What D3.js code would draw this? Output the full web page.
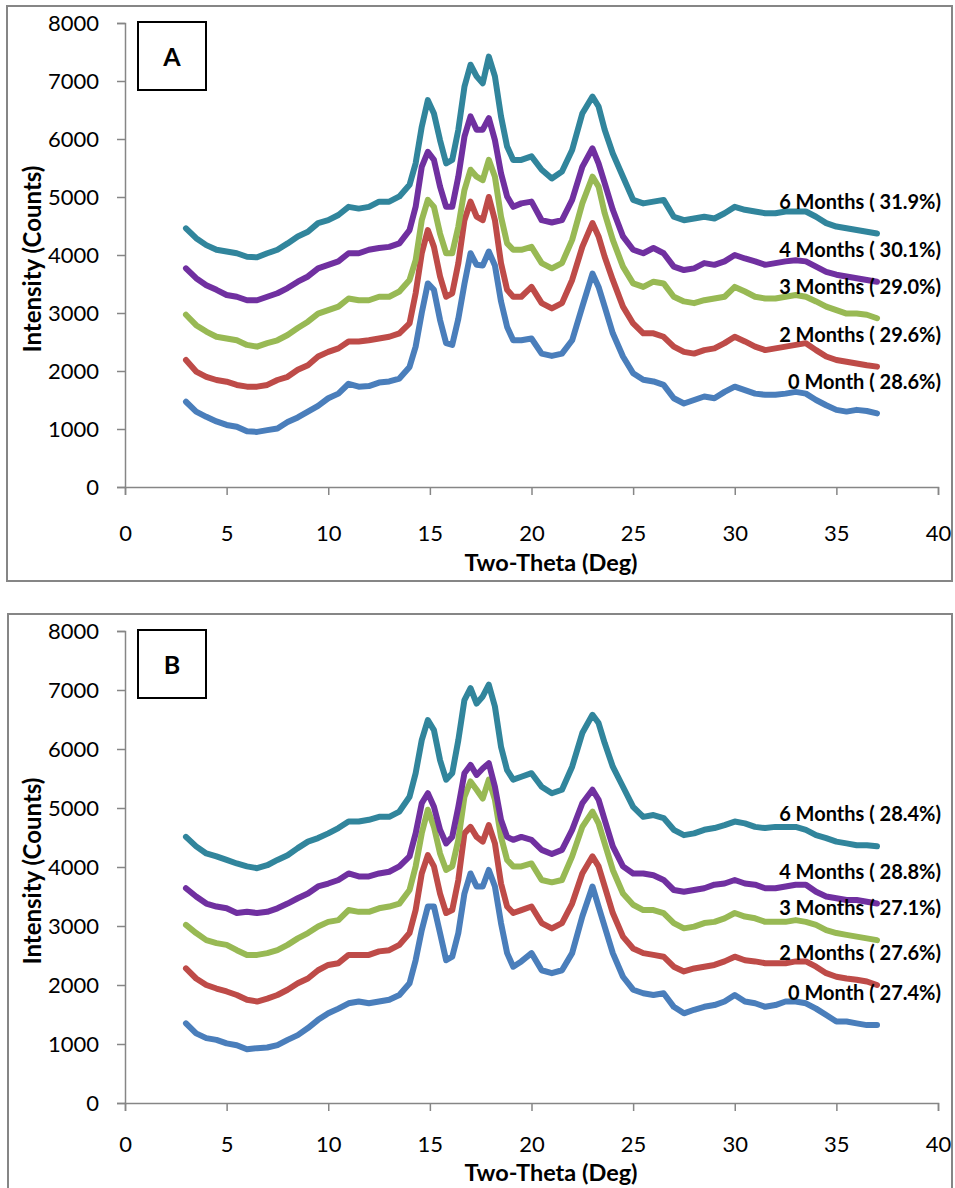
<!DOCTYPE html>
<html>
<head>
<meta charset="utf-8">
<script src="https://cdn.jsdelivr.net/npm/d3@7"></script>
<style>
  body { margin: 0; background: #fff; }
  svg { display: block; }
  text { font-family: Lato, "Open Sans", sans-serif; }
</style>
</head>
<body>
<div class="js-chart"></div>
<script>
// two-theta positions shared by every scan
var twoTheta = [3, 3.5, 4, 4.5, 5, 5.5, 6, 6.5, 7, 7.5, 8, 8.5, 9, 9.5, 10, 10.5, 11, 11.5, 12, 12.5, 13, 13.5, 14,
  14.3, 14.6, 14.9, 15.2, 15.5, 15.8, 16.1, 16.4, 16.7, 17, 17.3, 17.6, 17.9, 18.2, 18.5, 18.8,
  19.1, 19.5, 20, 20.5, 21, 21.5, 22, 22.5, 23, 23.3, 23.6,
  24, 24.5, 25, 25.5, 26, 26.5, 27, 27.5, 28, 28.5, 29, 29.5, 30, 30.5, 31, 31.5, 32, 32.5, 33, 33.5, 34, 34.5, 35, 35.5, 36, 36.5, 37];

var seriesNames = ['0 Month', '2 Months', '3 Months', '4 Months', '6 Months'];
var crystallinityA = ['28.6', '29.6', '29.0', '30.1', '31.9'];
var crystallinityB = ['27.4', '27.6', '27.1', '28.8', '28.4'];

var xTicks = [0, 5, 10, 15, 20, 25, 30, 35, 40];
var yTicks = [0, 1000, 2000, 3000, 4000, 5000, 6000, 7000, 8000];

// panel A intensities (counts)
var a0Month = [1470, 1300, 1210, 1130, 1070, 1040, 960, 950, 980, 1010, 1120, 1200, 1300, 1400, 1530, 1610, 1780, 1730, 1740, 1800, 1820, 1870, 2070,
  2420, 3000, 3510, 3400, 2880, 2480, 2450, 2900, 3500, 4030, 3830, 3820, 4060, 3820, 3200, 2760,
  2530, 2530, 2560, 2300, 2260, 2300, 2530, 3110, 3680, 3450, 3110,
  2650, 2250, 1960, 1850, 1820, 1760, 1530, 1440, 1500, 1560, 1530, 1640, 1730, 1670, 1610, 1590, 1590, 1610, 1640, 1610, 1500, 1410, 1330, 1300, 1330, 1310, 1270];
var a2Months = [2190, 1990, 1900, 1845, 1815, 1760, 1730, 1730, 1760, 1845, 1900, 2020, 2100, 2250, 2330, 2390, 2510, 2510, 2530, 2560, 2590, 2650, 2820,
  3340, 4030, 4430, 4140, 3630, 3280, 3340, 3860, 4600, 4920, 4660, 4600, 5000, 4600, 3860, 3400,
  3280, 3280, 3450, 3170, 3080, 3170, 3570, 4140, 4550, 4320, 3970,
  3570, 3110, 2820, 2650, 2650, 2590, 2420, 2330, 2300, 2360, 2390, 2480, 2590, 2510, 2420, 2360, 2390, 2420, 2450, 2480, 2360, 2250, 2190, 2160, 2130, 2100, 2075];
var a3Months = [2970, 2790, 2680, 2590, 2560, 2530, 2450, 2420, 2480, 2530, 2620, 2740, 2850, 2990, 3050, 3110, 3250, 3220, 3220, 3280, 3280, 3370, 3570,
  3910, 4600, 4950, 4830, 4370, 4030, 4030, 4490, 5120, 5470, 5350, 5290, 5640, 5350, 4660, 4200,
  4090, 4090, 4140, 3860, 3770, 3860, 4260, 4890, 5350, 5180, 4720,
  4260, 3800, 3510, 3450, 3540, 3510, 3280, 3200, 3170, 3220, 3250, 3280, 3450, 3370, 3280, 3250, 3250, 3280, 3310, 3280, 3200, 3110, 3050, 2990, 2990, 2970, 2910];
var a4Months = [3770, 3600, 3480, 3400, 3310, 3280, 3220, 3220, 3280, 3340, 3430, 3540, 3630, 3770, 3830, 3890, 4030, 4030, 4090, 4120, 4140, 4200, 4430,
  4830, 5520, 5780, 5640, 5180, 4830, 4830, 5350, 6040, 6390, 6160, 6160, 6360, 5980, 5410, 5010,
  4830, 4890, 4920, 4600, 4560, 4600, 4950, 5520, 5840, 5580, 5240,
  4780, 4320, 4090, 4030, 4120, 4030, 3800, 3740, 3770, 3860, 3830, 3890, 4000, 3940, 3890, 3830, 3860, 3890, 3910, 3890, 3800, 3710, 3660, 3630, 3600, 3570, 3540];
var a6Months = [4460, 4290, 4170, 4090, 4060, 4030, 3970, 3960, 4030, 4090, 4200, 4320, 4400, 4550, 4600, 4690, 4830, 4800, 4830, 4920, 4920, 5010, 5210,
  5580, 6210, 6670, 6440, 5980, 5580, 5640, 6160, 6900, 7280, 7080, 6960, 7420, 7080, 6390, 5870,
  5640, 5640, 5700, 5470, 5320, 5440, 5810, 6440, 6730, 6560, 6160,
  5750, 5350, 4950, 4890, 4920, 4950, 4660, 4600, 4630, 4660, 4630, 4720, 4830, 4780, 4750, 4720, 4720, 4750, 4750, 4750, 4660, 4550, 4490, 4460, 4430, 4400, 4370];

// panel B intensities (counts)
var b0Month = [1350, 1180, 1100, 1070, 1010, 980, 910, 930, 940, 980, 1070, 1150, 1270, 1410, 1520, 1600, 1690, 1720, 1690, 1720, 1750, 1830, 2030,
  2420, 2930, 3330, 3330, 2880, 2420, 2480, 2880, 3550, 3890, 3670, 3670, 3950, 3670, 3050, 2540,
  2310, 2400, 2540, 2250, 2200, 2250, 2540, 3160, 3670, 3330, 2990,
  2540, 2140, 1920, 1860, 1830, 1860, 1630, 1520, 1580, 1630, 1660, 1720, 1830, 1720, 1690, 1630, 1660, 1720, 1720, 1690, 1600, 1490, 1380, 1380, 1350, 1320, 1320];
var b2Months = [2280, 2110, 2000, 1940, 1890, 1830, 1750, 1720, 1770, 1830, 1920, 2030, 2110, 2250, 2340, 2370, 2510, 2510, 2510, 2570, 2590, 2680, 2880,
  3270, 3890, 4200, 4010, 3550, 3220, 3270, 3780, 4570, 4680, 4510, 4430, 4710, 4400, 3720, 3330,
  3220, 3270, 3330, 3050, 2960, 3050, 3380, 3890, 4180, 4010, 3670,
  3220, 2820, 2620, 2540, 2510, 2480, 2310, 2230, 2280, 2310, 2340, 2400, 2480, 2420, 2400, 2370, 2370, 2370, 2400, 2400, 2310, 2200, 2140, 2110, 2090, 2060, 2000];
var b3Months = [3020, 2880, 2760, 2710, 2680, 2590, 2510, 2510, 2540, 2590, 2680, 2790, 2880, 2990, 3070, 3100, 3270, 3240, 3240, 3300, 3330, 3380, 3610,
  4010, 4570, 4970, 4680, 4230, 3950, 4010, 4460, 5190, 5450, 5310, 5160, 5480, 5140, 4510, 4120,
  4010, 4010, 4060, 3780, 3740, 3780, 4180, 4680, 4940, 4740, 4400,
  3950, 3550, 3360, 3270, 3270, 3220, 3050, 2960, 2990, 3050, 3070, 3130, 3220, 3160, 3130, 3070, 3070, 3070, 3100, 3070, 3020, 2930, 2880, 2850, 2820, 2790, 2760];
var b4Months = [3640, 3500, 3380, 3330, 3300, 3220, 3240, 3220, 3240, 3300, 3380, 3470, 3550, 3670, 3720, 3780, 3890, 3840, 3840, 3890, 3920, 4010, 4180,
  4570, 5080, 5250, 5020, 4630, 4400, 4510, 5020, 5590, 5730, 5560, 5670, 5760, 5360, 4800, 4510,
  4460, 4510, 4460, 4290, 4220, 4290, 4630, 5080, 5310, 5140, 4800,
  4350, 4010, 3890, 3890, 3860, 3780, 3610, 3580, 3610, 3640, 3700, 3720, 3780, 3720, 3700, 3640, 3640, 3670, 3700, 3700, 3580, 3500, 3470, 3440, 3440, 3410, 3380];
var b6Months = [4510, 4350, 4230, 4180, 4120, 4060, 4010, 3980, 4030, 4120, 4200, 4320, 4430, 4490, 4570, 4660, 4770, 4770, 4800, 4850, 4850, 4940, 5190,
  5590, 6150, 6490, 6320, 5810, 5480, 5590, 6150, 6830, 7030, 6770, 6890, 7090, 6720, 6040, 5640,
  5480, 5530, 5590, 5360, 5250, 5310, 5700, 6270, 6580, 6440, 6100,
  5700, 5360, 5020, 4850, 4880, 4830, 4630, 4540, 4570, 4630, 4660, 4710, 4770, 4740, 4680, 4660, 4680, 4680, 4680, 4630, 4540, 4490, 4430, 4400, 4370, 4370, 4350];

var colors = ['#4a7ebb', '#be4b48', '#98b954', '#7030a0', '#31859c'];

var width = 955, height = 1188;

var svg = d3.select('.js-chart').append('svg')
            .attr('width', width)
            .attr('height', height);

var drawPanel = function (panel) {
  var g = svg.append('g');

  // chart frame
  g.append('rect')
   .attr('x', panel.frame[0])
   .attr('y', panel.frame[1])
   .attr('width', panel.frame[2])
   .attr('height', panel.frame[3])
   .attr('fill', '#fff')
   .attr('stroke', '#868686')
   .attr('stroke-width', 2);

  var x = d3.scaleLinear().domain([0, 40]).range([125, 938]);
  var y = d3.scaleLinear().domain([0, 8000]).range([panel.bottom, panel.top]);

  var yAxis = g.append('g')
               .attr('transform', 'translate(125,0)')
               .call(d3.axisLeft(y).tickValues(yTicks).tickSize(8).tickPadding(18).tickFormat(d3.format('d')));
  var xAxis = g.append('g')
               .attr('transform', `translate(0,${panel.bottom})`)
               .call(d3.axisBottom(x).tickValues(xTicks).tickSize(8).tickPadding(panel.xPad));

  [xAxis, yAxis].forEach(function (axis) {
    axis.select('.domain').attr('stroke', '#868686').attr('stroke-width', 1.5);
    axis.selectAll('.tick line').attr('stroke', '#868686').attr('stroke-width', 1.5);
    axis.selectAll('.tick text')
        .attr('fill', '#000')
        .style('font-family', 'Lato, sans-serif')
        .style('font-size', '22px');
  });

  var line = d3.line()
               .x(function (d, i) { return x(twoTheta[i]); })
               .y(function (d) { return y(d); });

  panel.series.forEach(function (values, i) {
    g.append('path')
     .datum(values)
     .attr('fill', 'none')
     .attr('stroke', colors[i])
     .attr('stroke-width', 6)
     .attr('stroke-linejoin', 'round')
     .attr('stroke-linecap', 'round')
     .attr('d', line);
  });

  panel.series.forEach(function (values, i) {
    g.append('text')
     .attr('x', x(40) + 3)
     .attr('y', y(values[values.length - 1] + 560))
     .attr('text-anchor', 'end')
     .attr('dominant-baseline', 'central')
     .style('font-size', '20px')
     .style('font-weight', 'bold')
     .text(`${seriesNames[i]} ( ${panel.crystallinity[i]}%)`);
  });

  // axis titles
  g.append('text')
   .attr('x', 551)
   .attr('y', panel.titleY)
   .attr('text-anchor', 'middle')
   .attr('dominant-baseline', 'central')
   .style('font-size', '23.5px')
   .style('font-weight', 'bold')
   .text('Two-Theta (Deg)');

  g.append('text')
   .attr('transform', `translate(31,${(panel.top + panel.bottom) / 2 + 4}) rotate(-90)`)
   .attr('text-anchor', 'middle')
   .attr('dominant-baseline', 'central')
   .style('font-size', '24px')
   .style('font-weight', 'bold')
   .text('Intensity (Counts)');

  // panel letter box
  g.append('rect')
   .attr('x', 138)
   .attr('y', panel.top - 1)
   .attr('width', 68)
   .attr('height', 68)
   .attr('fill', '#fff')
   .attr('stroke', '#000')
   .attr('stroke-width', 2);

  g.append('text')
   .attr('x', 172)
   .attr('y', panel.top + 33)
   .attr('text-anchor', 'middle')
   .attr('dominant-baseline', 'central')
   .style('font-size', '25px')
   .style('font-weight', 'bold')
   .text(panel.letter);
};

drawPanel({
  letter: 'A',
  frame: [7, 6, 945, 575],
  top: 23,
  bottom: 487,
  xPad: 30,
  titleY: 562,
  series: [a0Month, a2Months, a3Months, a4Months, a6Months],
  crystallinity: crystallinityA
});

drawPanel({
  letter: 'B',
  frame: [8, 614, 944, 580],
  top: 631,
  bottom: 1103,
  xPad: 25,
  titleY: 1172,
  series: [b0Month, b2Months, b3Months, b4Months, b6Months],
  crystallinity: crystallinityB
});
</script>
</body>
</html>
